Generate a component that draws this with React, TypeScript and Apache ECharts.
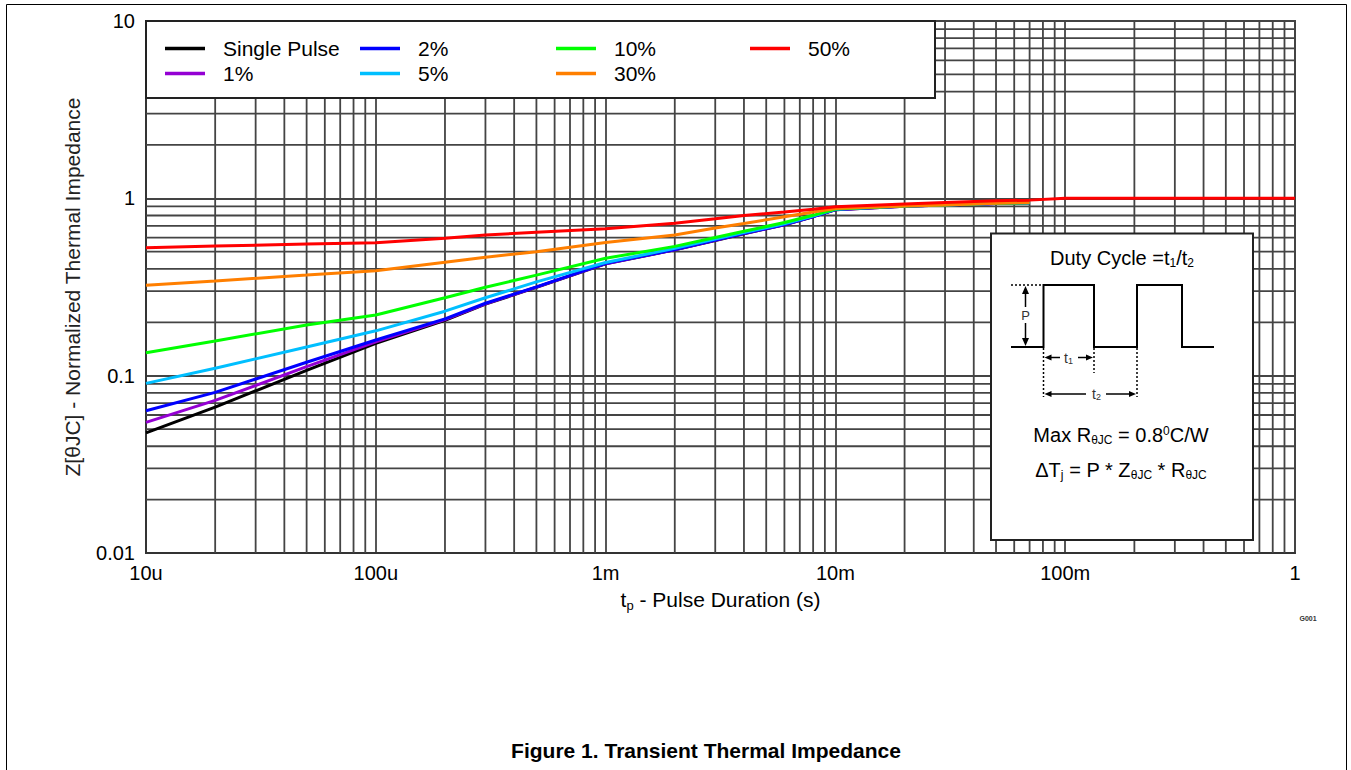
import React, { useEffect, useRef } from 'react';
import * as echarts from 'echarts';

const FONT = '"Liberation Sans", Arial, Helvetica, sans-serif';

// ---------- data ----------
const pulseDuration = [1e-5, 2e-5, 5e-5, 1e-4, 2e-4, 3e-4, 5e-4, 1e-3, 2e-3, 3e-3, 4e-3, 6e-3, 8e-3, 1e-2, 2e-2, 3e-2, 5e-2, 7e-2];
const pulseDuration50 = [1e-5, 2e-5, 5e-5, 1e-4, 2e-4, 3e-4, 5e-4, 1e-3, 2e-3, 3e-3, 4e-3, 6e-3, 8e-3, 1e-2, 2e-2, 3e-2, 5e-2, 7e-2, 1e-1, 2e-1, 5e-1, 1];

const zSinglePulse = [0.0476, 0.0665, 0.107, 0.152, 0.205, 0.253, 0.315, 0.427, 0.512, 0.579, 0.632, 0.709, 0.788, 0.862, 0.903, 0.916, 0.936, 0.944];
const zDuty1 = [0.0545, 0.0725, 0.1125, 0.155, 0.207, 0.254, 0.316, 0.428, 0.513, 0.58, 0.633, 0.71, 0.789, 0.863, 0.903, 0.916, 0.936, 0.944];
const zDuty2 = [0.0634, 0.0805, 0.119, 0.159, 0.209, 0.256, 0.317, 0.43, 0.514, 0.582, 0.635, 0.712, 0.79, 0.865, 0.904, 0.916, 0.936, 0.944];
const zDuty5 = [0.0905, 0.11, 0.145, 0.179, 0.231, 0.275, 0.338, 0.435, 0.522, 0.589, 0.641, 0.719, 0.795, 0.867, 0.904, 0.917, 0.937, 0.945];
const zDuty10 = [0.1346, 0.157, 0.193, 0.22, 0.275, 0.315, 0.369, 0.459, 0.536, 0.601, 0.652, 0.73, 0.802, 0.87, 0.905, 0.917, 0.937, 0.945];
const zDuty30 = [0.324, 0.342, 0.369, 0.391, 0.436, 0.465, 0.5, 0.563, 0.622, 0.68, 0.721, 0.787, 0.837, 0.876, 0.906, 0.918, 0.938, 0.946];
const zDuty50 = [0.526, 0.538, 0.552, 0.562, 0.595, 0.621, 0.643, 0.673, 0.723, 0.766, 0.799, 0.838, 0.868, 0.896, 0.929, 0.947, 0.968, 0.977, 1.0, 1.0, 1.0, 1.0];

const seriesNames = ['Single Pulse', '1%', '2%', '5%', '10%', '30%', '50%'];
const seriesColors = ['#000000', '#9400D3', '#0000FF', '#00BFFF', '#00FF00', '#FF7F00', '#FF0000'];
const seriesTimes = [pulseDuration, pulseDuration, pulseDuration, pulseDuration, pulseDuration, pulseDuration, pulseDuration50];
const seriesValues = [zSinglePulse, zDuty1, zDuty2, zDuty5, zDuty10, zDuty30, zDuty50];

const xTickLabels = ['10u', '100u', '1m', '10m', '100m', '1'];
const yTickLabels = ['0.01', '0.1', '1', '10'];
const minorMantissas = [2, 3, 4, 5, 6, 7, 8, 9];
const xDecadeStarts = [1e-5, 1e-4, 1e-3, 1e-2, 1e-1];
const yDecadeStarts = [0.01, 0.1, 1];

const X_MIN = 1e-5;
const X_MAX = 1;
const Y_MIN = 0.01;
const Y_MAX = 10;

// ---------- layout ----------
const GRID_COLOR = '#444444';
const GRID_WIDTH = 1.8;
const legendSlots = [
  { left: 165, top: 38 },
  { left: 165, top: 63 },
  { left: 360, top: 38 },
  { left: 360, top: 63 },
  { left: 556, top: 38 },
  { left: 556, top: 63 },
  { left: 750, top: 38 },
];

function arrowHead(x: number, y: number, dir: string, len = 7, half = 3.5) {
  let pts: number[][];
  if (dir === 'up') pts = [[x, y], [x - half, y + len], [x + half, y + len]];
  else if (dir === 'down') pts = [[x, y], [x - half, y - len], [x + half, y - len]];
  else if (dir === 'left') pts = [[x, y], [x + len, y - half], [x + len, y + half]];
  else pts = [[x, y], [x - len, y - half], [x - len, y + half]];
  return { type: 'polygon', z: 12, shape: { points: pts }, style: { fill: '#000' } };
}

function seg(x1: number, y1: number, x2: number, y2: number, dashed = false, w = 1.5) {
  return {
    type: 'line',
    z: 12,
    shape: { x1, y1, x2, y2 },
    style: { stroke: '#000', lineWidth: w, lineDash: dashed ? [2, 2] : null },
  };
}

function richText(x: number, y: number, text: string, size: number, extra: any = {}) {
  const sub = Math.round(size * 0.62);
  const fill = extra.fill || '#000';
  return {
    type: 'text',
    z: 12,
    x,
    y,
    style: {
      text,
      fontSize: size,
      fontFamily: FONT,
      fill,
      align: 'center',
      verticalAlign: 'middle',
      rich: {
        a: { fontSize: size, fontFamily: FONT, fill, color: fill, lineHeight: size + 4 },
        s: { fontSize: sub, fontFamily: FONT, fill, color: fill, lineHeight: sub + 2, padding: [Math.round(size * 0.45), 0, 0, 0] },
        u: { fontSize: sub, fontFamily: FONT, fill, color: fill, lineHeight: sub + 2, padding: [0, 0, Math.round(size * 0.45), 0] },
      },
    },
  };
}

export default function App() {
  const ref = useRef<HTMLDivElement>(null);

  useEffect(() => {
    if (!ref.current) return;
    const chart = echarts.init(ref.current, null, { renderer: 'svg' });

    const xMinor = xDecadeStarts.flatMap((d) => minorMantissas.map((m) => m * d));
    const yMinor = yDecadeStarts.flatMap((d) => minorMantissas.map((m) => m * d));

    const lineSeries = seriesNames.map((name, i) => ({
      name,
      type: 'line',
      z: 3 + i,
      symbol: 'none',
      smooth: false,
      silent: true,
      lineStyle: { color: seriesColors[i], width: 3 },
      itemStyle: { color: seriesColors[i] },
      data: seriesTimes[i].map((t, k) => [t, seriesValues[i][k]]),
    }));

    const gridSeries = [
      {
        type: 'custom',
        z: 1,
        silent: true,
        data: xMinor.map((v) => [v, 1]),
        renderItem: (_p: any, api: any) => {
          const v = api.value(0);
          const a = api.coord([v, Y_MAX]);
          const b = api.coord([v, Y_MIN]);
          return { type: 'line', shape: { x1: a[0], y1: a[1], x2: b[0], y2: b[1] }, style: { stroke: GRID_COLOR, lineWidth: GRID_WIDTH } };
        },
      },
      {
        type: 'custom',
        z: 1,
        silent: true,
        data: yMinor.map((v) => [1e-3, v]),
        renderItem: (_p: any, api: any) => {
          const v = api.value(1);
          const a = api.coord([X_MIN, v]);
          const b = api.coord([X_MAX, v]);
          return { type: 'line', shape: { x1: a[0], y1: a[1], x2: b[0], y2: b[1] }, style: { stroke: GRID_COLOR, lineWidth: GRID_WIDTH } };
        },
      },
    ];

    const legends = seriesNames.map((name, i) => ({
      data: [name],
      left: legendSlots[i].left,
      top: legendSlots[i].top,
      orient: 'horizontal',
      icon: 'rect',
      itemWidth: 40,
      itemHeight: 3.5,
      selectedMode: false,
      z: 20,
      padding: 0,
      textStyle: { fontSize: 21, fontFamily: FONT, color: '#000', padding: [4, 0, 0, 13] },
    }));

    const graphic = [
      { type: 'rect', z: -10, shape: { x: 6.5, y: 4.5, width: 1340, height: 800 }, style: { fill: 'none', stroke: '#000', lineWidth: 1 } },
      { type: 'rect', z: 10, shape: { x: 146, y: 21, width: 789, height: 77 }, style: { fill: '#fff', stroke: '#222', lineWidth: 2 } },
      { type: 'rect', z: 10, shape: { x: 991, y: 233.5, width: 262, height: 306.5 }, style: { fill: '#fff', stroke: '#222', lineWidth: 2 } },
      richText(1122, 258, '{a|Duty Cycle =t}{s|1}{a|/t}{s|2}', 20),
      {
        type: 'polyline',
        z: 12,
        shape: { points: [[1011, 347], [1043.5, 347], [1043.5, 285], [1094, 285], [1094, 347], [1137, 347], [1137, 285], [1182, 285], [1182, 347], [1214, 347]] },
        style: { stroke: '#000', lineWidth: 2, fill: 'none' },
      },
      seg(1011, 285, 1043, 285, true),
      seg(1043.5, 348, 1043.5, 397, true),
      seg(1094, 348, 1094, 373, true),
      seg(1137, 348, 1137, 397, true),
      // P arrow
      arrowHead(1025.5, 286, 'up', 8, 3.5),
      seg(1025.5, 293, 1025.5, 307),
      richText(1025.5, 315, 'P', 13, { fill: '#333' }),
      seg(1025.5, 323, 1025.5, 339),
      arrowHead(1025.5, 346, 'down', 8, 3.5),
      // t1 arrow
      arrowHead(1044.5, 357.5, 'left', 7, 3),
      seg(1051, 357.5, 1060, 357.5),
      richText(1068.5, 357.5, '{a|t}{s|1}', 14, { fill: '#333' }),
      seg(1078, 357.5, 1087, 357.5),
      arrowHead(1093, 357.5, 'right', 7, 3),
      // t2 arrow
      arrowHead(1044.5, 394, 'left', 7, 3),
      seg(1051, 394, 1086, 394),
      richText(1096.5, 394, '{a|t}{s|2}', 14, { fill: '#333' }),
      seg(1106, 394, 1129, 394),
      arrowHead(1136, 394, 'right', 7, 3),
      richText(1121, 435, '{a|Max R}{s|θJC}{a| = 0.8}{u|0}{a|C/W}', 20),
      richText(1121, 470, '{a|ΔT}{s|j}{a| = P * Z}{s|θJC}{a| * R}{s|θJC}', 20),
      {
        type: 'text',
        z: 12,
        x: 706,
        y: 750,
        style: { text: 'Figure 1. Transient Thermal Impedance', fontSize: 21, fontWeight: 'bold', fontFamily: FONT, fill: '#000', align: 'center', verticalAlign: 'middle' },
      },
      {
        type: 'text',
        z: 12,
        x: 1308,
        y: 618,
        style: { text: 'G001', fontSize: 7, fontWeight: 'bold', fontFamily: FONT, fill: '#333', align: 'center', verticalAlign: 'middle' },
      },
    ];

    const option: any = {
      animation: false,
      backgroundColor: '#ffffff',
      grid: {
        left: 146,
        top: 21,
        width: 1149,
        height: 532,
        show: true,
        borderColor: '#333',
        borderWidth: 1.8,
        backgroundColor: 'transparent',
        containLabel: false,
        outerBoundsMode: 'none',
      },
      xAxis: {
        type: 'log',
        logBase: 10,
        min: X_MIN,
        max: X_MAX,
        name: '{n|t}{s|p}{n| - Pulse Duration (s)}',
        nameLocation: 'middle',
        nameGap: 33,
        nameTextStyle: {
          rich: {
            n: { fontSize: 21, fontFamily: FONT, color: '#000', lineHeight: 24 },
            s: { fontSize: 13, fontFamily: FONT, color: '#000', lineHeight: 14, padding: [11, 0, 0, 0] },
          },
        },
        axisLine: { show: true, lineStyle: { color: '#333', width: 1.8 } },
        axisTick: { show: false },
        splitLine: { show: true, lineStyle: { color: GRID_COLOR, width: GRID_WIDTH } },
        axisLabel: {
          fontSize: 20,
          fontFamily: FONT,
          color: '#000',
          margin: 10,
          showMinLabel: true,
          showMaxLabel: true,
          formatter: (v: number) => xTickLabels[Math.round(Math.log10(v)) + 5] ?? '',
        },
      },
      yAxis: {
        type: 'log',
        logBase: 10,
        min: Y_MIN,
        max: Y_MAX,
        name: 'Z[θJC] - Normalized Thermal Impedance',
        nameLocation: 'middle',
        nameGap: 63,
        nameTextStyle: { fontSize: 21, fontFamily: FONT, color: '#222' },
        axisLine: { show: true, lineStyle: { color: '#333', width: 1.8 } },
        axisTick: { show: false },
        splitLine: { show: true, lineStyle: { color: GRID_COLOR, width: GRID_WIDTH } },
        axisLabel: {
          fontSize: 20,
          fontFamily: FONT,
          color: '#000',
          margin: 11,
          showMinLabel: true,
          showMaxLabel: true,
          formatter: (v: number) => yTickLabels[Math.round(Math.log10(v)) + 2] ?? '',
        },
      },
      legend: legends,
      graphic: { elements: graphic },
      series: [...gridSeries, ...lineSeries],
    };

    chart.setOption(option);
    return () => chart.dispose();
  }, []);

  return (
    <div
      ref={ref}
      style={{ position: 'absolute', left: 0, top: 0, width: 1351, height: 770, background: '#fff' }}
    />
  );
}
